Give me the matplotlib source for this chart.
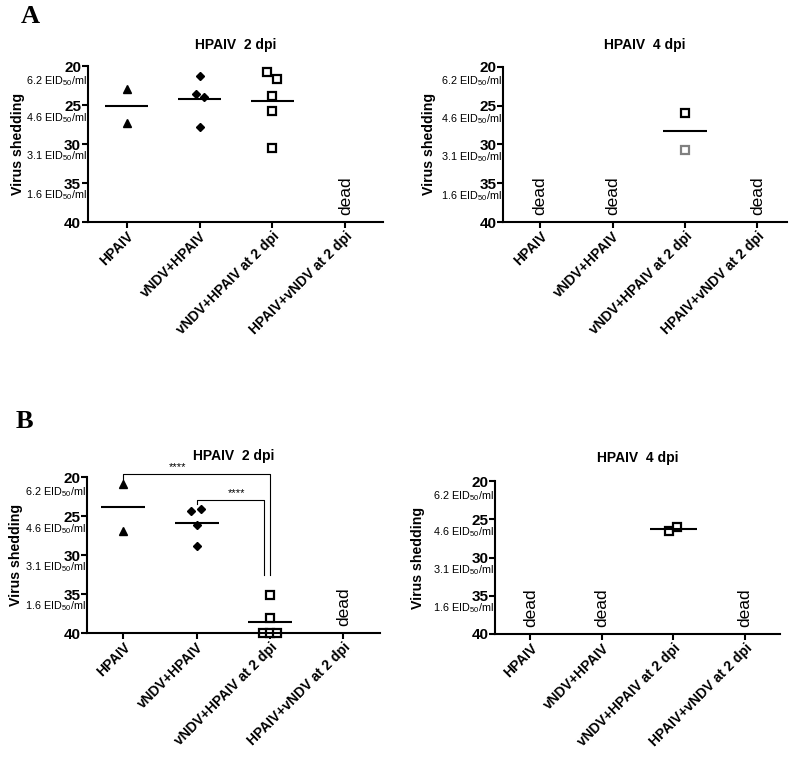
import matplotlib
matplotlib.use('Agg')
import matplotlib.pyplot as plt
import matplotlib.transforms as mtransforms
import numpy as np

plt.rcParams['font.family'] = ['Liberation Sans', 'DejaVu Sans']
plt.rcParams['mathtext.default'] = 'regular'

# groups on the x axis
groups = ['HPAIV', 'vNDV+HPAIV', 'vNDV+HPAIV at 2 dpi', 'HPAIV+vNDV at 2 dpi']
yticks = [20, 25, 30, 35, 40]
eid_labels = ['6.2 EID$_{50}$/ml', '4.6 EID$_{50}$/ml', '3.1 EID$_{50}$/ml', '1.6 EID$_{50}$/ml']
eid_pos = [21.9, 26.7, 31.6, 36.6]

# Ct values (A = top row, B = bottom row), x offsets within group
a2_hpaiv = [22.9, 27.3]
a2_vndv = [21.3, 23.6, 24.0, 27.8]
a2_vndv_off = [0.0, -0.05, 0.06, 0.0]
a2_vndv2 = [20.7, 21.6, 23.8, 25.8, 30.5]
a2_vndv2_off = [-0.08, 0.06, 0.0, 0.0, 0.0]
a4_vndv2 = [25.9, 30.7]
a4_vndv2_col = ['black', 'gray']

b2_hpaiv = [20.9, 26.9]
b2_vndv = [24.4, 24.1, 26.2, 28.8]
b2_vndv_off = [-0.07, 0.06, 0.0, 0.0]
b2_vndv2 = [35.1, 38.1, 40.0, 40.0, 40.0]
b2_vndv2_off = [0.0, 0.0, -0.1, 0.0, 0.1]
b4_vndv2 = [26.5, 26.0]
b4_vndv2_off = [-0.065, 0.055]

fig = plt.figure(figsize=(8, 7.57), dpi=100)


def setup(rect, xlim, title, dead, ylab_x, title_pad):
    ax = fig.add_axes(rect)
    ax.set_xlim(*xlim)
    ax.set_ylim(40, 20)
    ax.set_yticks(yticks)
    ax.set_yticklabels([str(t) for t in yticks], fontsize=11, fontweight='bold')
    ax.set_xticks(range(4))
    ax.set_xticklabels(groups, rotation=45, ha='right', rotation_mode='anchor',
                       fontsize=10, fontweight='bold')
    for s in ['top', 'right']:
        ax.spines[s].set_visible(False)
    for s in ['left', 'bottom']:
        ax.spines[s].set_linewidth(1.5)
    ax.tick_params(width=1.5, length=4, pad=1)
    ax.set_ylabel('Virus shedding', fontsize=10.2, fontweight='bold')
    ax.yaxis.set_label_coords(ylab_x, 0.5)
    ax.set_title(title, fontsize=10, fontweight='bold', pad=title_pad)
    trans = mtransforms.blended_transform_factory(ax.transAxes, ax.transData)
    for lab, p in zip(eid_labels, eid_pos):
        ax.text(-0.003, p, lab, transform=trans, ha='right', va='center', fontsize=7.8)
    for d in dead:
        ax.text(d, 39.1, 'dead', rotation=90, ha='center', va='bottom', fontsize=12.5)
    return ax


def mean_line(ax, x, vals, w=0.3):
    ax.hlines(np.mean(vals), x - w, x + w, color='black', lw=1.5)


def squares(ax, x, vals, offs=None, cols=None):
    offs = offs or [0] * len(vals)
    cols = cols or ['black'] * len(vals)
    for o, v, c in zip(offs, vals, cols):
        ax.plot(x + o, v, 's', ms=6, mfc='white', mec=c, mew=1.6, clip_on=False)


# A left
ax = setup([0.11, 0.7067, 0.369, 0.206], (-0.53, 3.52), 'HPAIV  2 dpi', [3], -0.214, 12.5)
ax.plot([0] * len(a2_hpaiv), a2_hpaiv, '^', color='black', ms=5.5)
mean_line(ax, 0, a2_hpaiv)
ax.plot(1 + np.array(a2_vndv_off), a2_vndv, 'D', color='black', ms=4)
mean_line(ax, 1, a2_vndv)
squares(ax, 2, a2_vndv2, a2_vndv2_off)
mean_line(ax, 2, a2_vndv2)

# A right
ax = setup([0.629, 0.7067, 0.355, 0.205], (-0.51, 3.41), 'HPAIV  4 dpi', [0, 1, 3], -0.236, 13)
squares(ax, 2, a4_vndv2, None, a4_vndv2_col)
mean_line(ax, 2, a4_vndv2)

# B left
ax = setup([0.109, 0.1638, 0.366, 0.206], (-0.49, 3.5), 'HPAIV  2 dpi', [3], -0.218, 12.5)
ax.plot([0] * len(b2_hpaiv), b2_hpaiv, '^', color='black', ms=5.5)
mean_line(ax, 0, b2_hpaiv)
ax.plot(1 + np.array(b2_vndv_off), b2_vndv, 'D', color='black', ms=4)
mean_line(ax, 1, b2_vndv)
squares(ax, 2, b2_vndv2, b2_vndv2_off)
mean_line(ax, 2, b2_vndv2)
# significance brackets
ax.plot([0, 0, 2.0, 2.0], [20.5, 19.6, 19.6, 32.6], color='black', lw=0.8, clip_on=False)
ax.text(0.74, 19.4, '****', ha='center', va='bottom', fontsize=8)
ax.plot([1, 1, 1.92, 1.92], [23.5, 22.95, 22.95, 32.6], color='black', lw=0.8)
ax.text(1.55, 22.75, '****', ha='center', va='bottom', fontsize=8)

# B right
ax = setup([0.619, 0.1625, 0.356, 0.202], (-0.49, 3.49), 'HPAIV  4 dpi', [0, 1, 3], -0.246, 14)
squares(ax, 2, b4_vndv2, b4_vndv2_off)
mean_line(ax, 2, b4_vndv2, 0.33)

fig.text(0.026, 0.978, 'A', fontsize=19, fontweight='bold', family='Liberation Serif', va='center')
fig.text(0.019, 0.443, 'B', fontsize=19, fontweight='bold', family='Liberation Serif', va='center')

fig.savefig('out.png', dpi=100)
